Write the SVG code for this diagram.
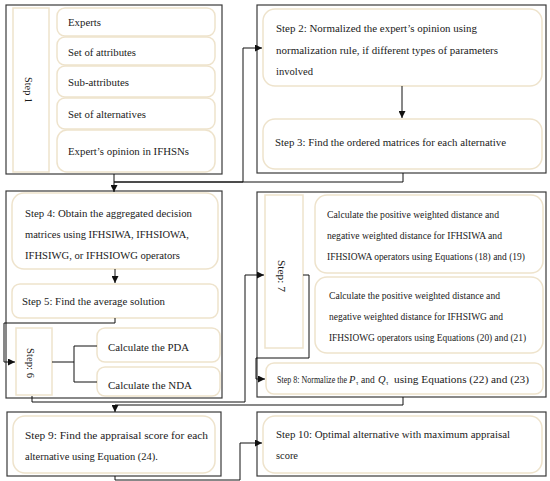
<svg xmlns="http://www.w3.org/2000/svg" width="550" height="481" viewBox="0 0 550 481">
<defs>
<style>
.outer{fill:#fff;stroke:#3a3a3a;stroke-width:1.2}
.inner{fill:#fff;stroke:#eee3cc;stroke-width:1.5}
.t{font-family:"Liberation Serif","DejaVu Serif",serif;font-size:10.5px;fill:#1a1a1a}
.c{fill:none;stroke:#111;stroke-width:1}
</style>
<marker id="ah" viewBox="0 0 10 10" refX="10" refY="5" markerWidth="8" markerHeight="7" markerUnits="userSpaceOnUse" orient="auto">
<path d="M0,0 L10,5 L0,10 z" fill="#111"/>
</marker>
</defs>
<rect width="550" height="481" fill="#fff"/>

<g id="step1">
<rect class="outer" x="6" y="5" width="216" height="169"/>
<rect class="inner" x="13" y="8" width="36" height="164"/>
<text class="t" transform="translate(29,90) rotate(90)" text-anchor="middle" dy="0.35em" textLength="26" lengthAdjust="spacingAndGlyphs">Step 1</text>
<rect class="inner" x="57" y="8" width="158" height="28" rx="8"/>
<text class="t" x="68" y="26" textLength="33" lengthAdjust="spacingAndGlyphs">Experts</text>
<rect class="inner" x="57" y="37" width="158" height="28" rx="8"/>
<text class="t" x="68" y="56" textLength="68" lengthAdjust="spacingAndGlyphs">Set of attributes</text>
<rect class="inner" x="57" y="66" width="158" height="31" rx="8"/>
<text class="t" x="68" y="86" textLength="61" lengthAdjust="spacingAndGlyphs">Sub-attributes</text>
<rect class="inner" x="57" y="98" width="158" height="31" rx="8"/>
<text class="t" x="68" y="118" textLength="78" lengthAdjust="spacingAndGlyphs">Set of alternatives</text>
<rect class="inner" x="57" y="130" width="158" height="42" rx="10"/>
<text class="t" x="68" y="155" textLength="121" lengthAdjust="spacingAndGlyphs">Expert’s opinion in IFHSNs</text>
</g>

<g id="box23">
<rect class="outer" x="257" y="5" width="289" height="168"/>
</g>
<g id="step2">
<rect class="inner" x="263" y="9" width="279" height="77" rx="12"/>
<text class="t" x="276" y="32" textLength="201" lengthAdjust="spacingAndGlyphs">Step 2: Normalized the expert’s opinion using</text>
<text class="t" x="276" y="54" textLength="222" lengthAdjust="spacingAndGlyphs">normalization rule, if different types of parameters</text>
<text class="t" x="276" y="75" textLength="37" lengthAdjust="spacingAndGlyphs">involved</text>
</g>
<g id="step3">
<rect class="inner" x="263" y="119" width="279" height="50" rx="12"/>
<text class="t" x="275" y="146" textLength="231" lengthAdjust="spacingAndGlyphs">Step 3: Find the ordered matrices for each alternative</text>
</g>

<g id="box456">
<rect class="outer" x="6" y="191" width="216" height="207"/>
</g>
<g id="step4">
<rect class="inner" x="12" y="193" width="206" height="76" rx="12"/>
<text class="t" x="25" y="217" textLength="167" lengthAdjust="spacingAndGlyphs">Step 4: Obtain the aggregated decision</text>
<text class="t" x="25" y="238" textLength="164" lengthAdjust="spacingAndGlyphs">matrices using IFHSIWA, IFHSIOWA,</text>
<text class="t" x="25" y="259" textLength="155" lengthAdjust="spacingAndGlyphs">IFHSIWG, or IFHSIOWG operators</text>
</g>
<g id="step5">
<rect class="inner" x="12" y="284" width="206" height="34" rx="8"/>
<text class="t" x="22" y="305" textLength="143" lengthAdjust="spacingAndGlyphs">Step 5: Find the average solution</text>
</g>
<g id="step6">
<rect class="inner" x="16" y="328" width="36" height="67"/>
<text class="t" transform="translate(31,363) rotate(90)" text-anchor="middle" dy="0.35em" textLength="30" lengthAdjust="spacingAndGlyphs">Step: 6</text>
</g>
<g id="pda">
<rect class="inner" x="97" y="328" width="123" height="34" rx="8"/>
<text class="t" x="108" y="351" textLength="81" lengthAdjust="spacingAndGlyphs">Calculate the PDA</text>
</g>
<g id="nda">
<rect class="inner" x="97" y="367" width="123" height="29" rx="8"/>
<text class="t" x="108" y="389" textLength="84" lengthAdjust="spacingAndGlyphs">Calculate the NDA</text>
</g>

<g id="box78">
<rect class="outer" x="257" y="192" width="289" height="205"/>
</g>
<g id="step7">
<rect class="inner" x="265" y="195" width="38" height="153"/>
<text class="t" transform="translate(282,276) rotate(90)" text-anchor="middle" dy="0.35em" textLength="32" lengthAdjust="spacingAndGlyphs">Step: 7</text>
</g>
<g id="step7a">
<rect class="inner" x="315" y="195" width="228" height="78" rx="12"/>
<text class="t" x="327" y="218" textLength="172" lengthAdjust="spacingAndGlyphs">Calculate the positive weighted distance and</text>
<text class="t" x="327" y="239" textLength="175" lengthAdjust="spacingAndGlyphs">negative weighted distance for IFHSIWA and</text>
<text class="t" x="327" y="260" textLength="198" lengthAdjust="spacingAndGlyphs">IFHSIOWA operators using Equations (18) and (19)</text>
</g>
<g id="step7b">
<rect class="inner" x="315" y="277" width="228" height="76" rx="12"/>
<text class="t" x="329" y="299" textLength="171" lengthAdjust="spacingAndGlyphs">Calculate the positive weighted distance and</text>
<text class="t" x="329" y="320" textLength="174" lengthAdjust="spacingAndGlyphs">negative weighted distance for IFHSIWG and</text>
<text class="t" x="329" y="341" textLength="197" lengthAdjust="spacingAndGlyphs">IFHSIOWG operators using Equations (20) and (21)</text>
</g>
<g id="step8">
<rect class="inner" x="266" y="363" width="277" height="31" rx="8"/>
<text class="t" x="277" y="383" textLength="70" lengthAdjust="spacingAndGlyphs">Step 8: Normalize the</text>
<text class="t" y="383"><tspan x="349" font-style="italic">P</tspan><tspan x="356" dy="2" font-size="6">τ</tspan><tspan x="361" dy="-2" font-size="9.5">and</tspan><tspan x="378" font-style="italic">Q</tspan><tspan x="386" dy="2" font-size="6">τ</tspan></text>
<text class="t" x="394" y="383" textLength="135" lengthAdjust="spacingAndGlyphs">using Equations (22) and (23)</text>
</g>

<g id="step9">
<rect class="outer" x="7" y="412" width="214" height="64"/>
<rect class="inner" x="13" y="416" width="202" height="57" rx="12"/>
<text class="t" x="25" y="439" textLength="183" lengthAdjust="spacingAndGlyphs">Step 9: Find the appraisal score for each</text>
<text class="t" x="25" y="460" textLength="133" lengthAdjust="spacingAndGlyphs">alternative using Equation (24).</text>
</g>
<g id="step10">
<rect class="outer" x="257" y="412" width="289" height="64"/>
<rect class="inner" x="263" y="416" width="279" height="57" rx="12"/>
<text class="t" x="276" y="438" textLength="234" lengthAdjust="spacingAndGlyphs">Step 10: Optimal alternative with maximum appraisal</text>
<text class="t" x="276" y="459" textLength="22" lengthAdjust="spacingAndGlyphs">score</text>
</g>

<g id="connectors">
<path class="c" d="M114,174 V182 H243 V48 H262" marker-end="url(#ah)"/>
<path class="c" d="M403,173 V182 H114 V192" marker-end="url(#ah)"/>
<path class="c" d="M402,86 V118" marker-end="url(#ah)"/>
<path class="c" d="M115,269 V283" marker-end="url(#ah)"/>
<path class="c" d="M115,318 V323 H4 V362 H15" marker-end="url(#ah)"/>
<path class="c" d="M52,362 H74"/>
<path class="c" d="M97,346 H74 V382 H97"/>
<path class="c" d="M32,396 V402 H245 V275 H264" marker-end="url(#ah)"/>
<path class="c" d="M303,275 H309 V358 H256 V379 H265" marker-end="url(#ah)"/>
<path class="c" d="M403,397 V405 H115 V412" marker-end="url(#ah)"/>
<path class="c" d="M115,476 V480 H240 V443 H262" marker-end="url(#ah)"/>
</g>
</svg>
